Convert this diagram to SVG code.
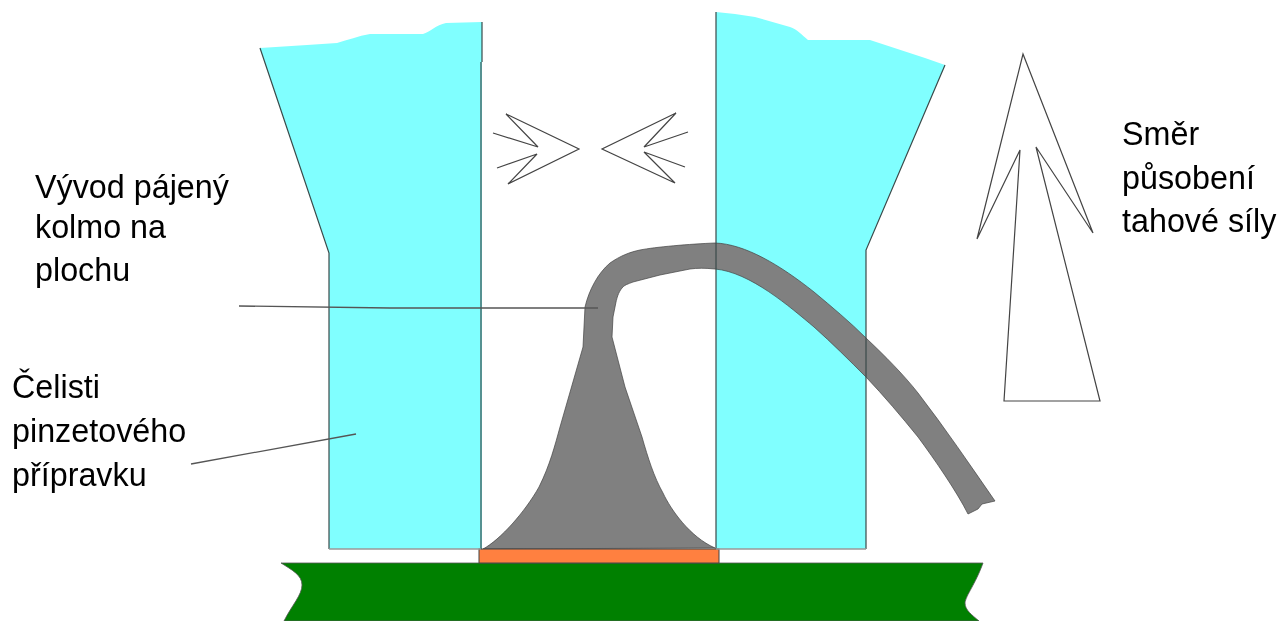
<svg xmlns="http://www.w3.org/2000/svg" width="1285" height="621" viewBox="0 0 1285 621">
<style>
.jaw{fill:#80ffff;stroke:none}
.edge{fill:none;stroke:#3a4a4a;stroke-width:1.2}
.arrow{fill:none;stroke:#444;stroke-width:1.2;stroke-linejoin:miter}
.lead{fill:#808080;stroke:#444;stroke-width:.7}
.lbl{font-family:"Liberation Sans",Arial,sans-serif;font-size:32.3px;fill:#000;filter:url(#soft)}
.leader{fill:none;stroke:#555;stroke-width:1.3}
</style>
<defs><filter id="soft" x="-5%" y="-20%" width="110%" height="140%"><feGaussianBlur stdDeviation="0.5"/></filter></defs>
<rect width="1285" height="621" fill="#fff"/>
<g id="board">
<path fill="#008000" stroke="#555" stroke-width=".8" d="M281 563H983C975 585 966 595 965 603C965 610 972 615 979 621H284C292 605 302 595 302 585C302 575 292 570 281 563Z"/>
</g>
<g id="jaw-left">
<path class="jaw" d="M260 48L307 45L337 43C348 40 358 36 370 34L423 34C430 32 436 25 446 23L482 22V549H329V253Z"/>
</g>
<g id="jaw-right">
<path class="jaw" d="M716 12L735 14L755 17L790 27C797 29 802 35 808 40L870 40L925 58L945 65L866 250V549H716Z"/>
</g>
<g id="lead">
<path class="lead" d="M483 549C500 540 525 512 539 487C550 465 555 445 560 427L583 347L585 307C589 290 598 273 610 263C620 256 630 252 640 250C655 247 690 244 715 243C745 244 780 265 814 292C832 307 850 322 866 338C885 356 903 374 918 393C945 428 970 465 995 501L982 504L978 509L968 514C957 492 935 460 918 437C901 416 884 396 866 377C849 360 832 343 814 327C790 307 750 272 715 269C705 268 697 268 690 269L660 275L633 282C628 284 624 285 622 288C618 293 617 298 616 302L613 317L612 337L625 387L642 437C648 458 654 477 663 493C671 510 690 537 715 548Z"/>
</g>
<g id="pad">
<rect x="479" y="549" width="240" height="14" fill="#ff8040" stroke="#444" stroke-width="1"/>
</g>
<g id="jaw-edges">
<path class="edge" d="M260 48L329 253V549M481 549V62M482 62V22"/>
<path class="edge" d="M716 12V549M866 549V250L945 65"/>
<path d="M329 549H481M716 549H866" stroke="#999" stroke-width="1.4" fill="none"/>
</g>
<g id="connectors">
<path class="leader" d="M239 306L390 308L598 308"/>
<path class="leader" d="M191 464L356 434"/>
</g>
<g id="arrow-left">
<path class="arrow" d="M493 133L538 147L506 114L579 149L508 184L537 154L497 168"/>
</g>
<g id="arrow-right">
<path class="arrow" d="M688 132L644 147L676 113L602 149L675 183L644 152L685 167"/>
</g>
<g id="arrow-up">
<path class="arrow" d="M1023 54L1093 233L1036 147L1100 401H1004L1020 150L977 239Z"/>
</g>
<g id="label-lead">
<text class="lbl" x="35" y="198">Vývod pájený</text>
<text class="lbl" x="35" y="238">kolmo na</text>
<text class="lbl" x="35" y="281">plochu</text>
</g>
<g id="label-jaws">
<text class="lbl" x="12" y="398">Čelisti</text>
<text class="lbl" x="12" y="442">pinzetového</text>
<text class="lbl" x="12" y="486">přípravku</text>
</g>
<g id="label-force">
<text class="lbl" x="1122" y="145">Směr</text>
<text class="lbl" x="1122" y="189">působení</text>
<text class="lbl" x="1122" y="232">tahové síly</text>
</g>
</svg>
